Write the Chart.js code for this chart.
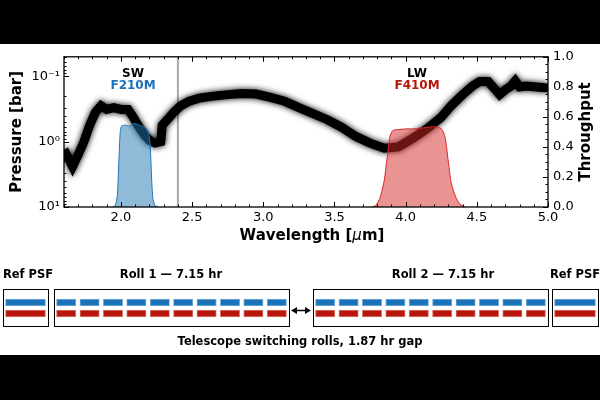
<!DOCTYPE html>
<html>
<head>
<meta charset="utf-8">
<script src="https://cdn.jsdelivr.net/npm/chart.js@4.4.0/dist/chart.umd.min.js"></script>
<style>
  html, body { margin: 0; padding: 0; background: #000; }
  #pagina { position: relative; width: 600px; height: 400px; overflow: hidden; background: #000; }
  #faixa { position: absolute; left: 0; top: 44px; width: 600px; height: 311px; background: #fff; }
  #graficoEspectro { position: absolute; left: 0; top: 44px; }
  #graficoRolls { position: absolute; left: 0; top: 260px; }
</style>
</head>
<body>
<div id="pagina">
  <div id="faixa"></div>
  <canvas id="graficoEspectro" width="600" height="216"></canvas>
  <canvas id="graficoRolls" width="600" height="95"></canvas>
</div>
<script>
// espectro (pressão de contribuição)
const comprimentoOnda = [1.60, 1.63, 1.66, 1.70, 1.74, 1.78, 1.82, 1.86, 1.90, 1.95, 2.00, 2.05, 2.08, 2.12, 2.16, 2.20, 2.24, 2.28,
  2.29, 2.33, 2.37, 2.42, 2.48, 2.55, 2.65, 2.75, 2.85, 2.95, 3.05, 3.15, 3.25, 3.35, 3.45, 3.55, 3.65, 3.75, 3.85, 3.95,
  4.05, 4.15, 4.25, 4.32, 4.40, 4.47, 4.52, 4.58, 4.62, 4.66, 4.70, 4.74, 4.77, 4.80, 4.85, 4.92, 5.00];
const pressao = [1.32, 1.78, 2.4, 1.58, 1.0, 0.56, 0.355, 0.28, 0.32, 0.30, 0.32, 0.32, 0.40, 0.56, 0.76, 0.95, 1.05, 1.0,
  0.56, 0.45, 0.355, 0.28, 0.24, 0.215, 0.20, 0.19, 0.182, 0.186, 0.21, 0.24, 0.30, 0.37, 0.46, 0.60, 0.83, 1.05, 1.26, 1.2,
  0.89, 0.63, 0.42, 0.28, 0.19, 0.14, 0.12, 0.12, 0.15, 0.19, 0.16, 0.14, 0.117, 0.145, 0.14, 0.145, 0.15];

// curvas de transmissão dos filtros
const comprimentoF210M = [1.94, 1.96, 1.975, 1.985, 1.995, 2.005, 2.03, 2.06, 2.09, 2.13, 2.17, 2.19, 2.205, 2.215, 2.225, 2.24, 2.26];
const transmissaoF210M = [0, 0.01, 0.08, 0.30, 0.50, 0.54, 0.545, 0.54, 0.556, 0.545, 0.53, 0.51, 0.42, 0.20, 0.05, 0.01, 0];
const comprimentoF410M = [3.76, 3.79, 3.82, 3.85, 3.87, 3.89, 3.91, 3.95, 4.00, 4.05, 4.10, 4.15, 4.20, 4.24, 4.265, 4.28, 4.30, 4.32, 4.35, 4.38, 4.42];
const transmissaoF410M = [0, 0.01, 0.06, 0.18, 0.33, 0.47, 0.51, 0.515, 0.52, 0.52, 0.525, 0.53, 0.535, 0.53, 0.50, 0.45, 0.30, 0.16, 0.07, 0.02, 0];

// eixos
const ticksComprimento = [2.0, 2.5, 3.0, 3.5, 4.0, 4.5, 5.0];
const ticksPressao = [0.1, 1, 10];
const rotulosPressao = ['10⁻¹', '10⁰', '10¹'];
const ticksTransmissao = [0, 0.2, 0.4, 0.6, 0.8, 1.0];
const linhaCorte = 2.4;

// rótulos dos canais
const canais = ['SW', 'LW'];
const filtros = ['F210M', 'F410M'];
const centroCanal = [2.085, 4.08];

// sequência de observação
const blocosRotulo = ['Ref PSF', 'Roll 1 — 7.15 hr', 'Roll 2 — 7.15 hr', 'Ref PSF'];
const blocosExposicoes = [1, 10, 10, 1];
const textoIntervalo = 'Telescope switching rolls, 1.87 hr gap';

const corSW = '#1a72bb';
const corLW = '#b8160a';
const fonte = '"DejaVu Sans"';

Chart.defaults.font.family = fonte;
Chart.defaults.color = '#000';

const pluginEixos = {
  id: 'eixos',
  beforeDatasetsDraw(chart) {
    const { ctx, chartArea: a, scales: { x } } = chart;
    const px = x.getPixelForValue(linhaCorte);
    ctx.save();
    ctx.strokeStyle = '#a8a8a8';
    ctx.lineWidth = 2;
    ctx.beginPath();
    ctx.moveTo(px, a.top);
    ctx.lineTo(px, a.bottom);
    ctx.stroke();
    ctx.restore();
  },
  beforeDatasetDraw(chart, args) {
    if (args.index !== 2) return;
    const ctx = chart.ctx;
    ctx.save();
    ctx.shadowColor = 'rgba(0,0,0,1)';
    ctx.shadowBlur = 6;
  },
  afterDatasetDraw(chart, args) {
    if (args.index !== 2) return;
    chart.ctx.restore();
  },
  afterDraw(chart) {
    const { ctx, chartArea: a, scales: { x, y, y2 } } = chart;
    ctx.save();
    ctx.strokeStyle = '#000';
    ctx.lineWidth = 1;
    const traco = (x1, y1, x2, y2b) => {
      ctx.beginPath(); ctx.moveTo(x1, y1); ctx.lineTo(x2, y2b); ctx.stroke();
    };
    // ticks para dentro, estilo matplotlib
    for (let k = 16; k <= 50; k++) {
      const p = Math.round(x.getPixelForValue(k / 10)) + 0.5;
      const len = k % 5 === 0 ? 5 : 2.5;
      traco(p, a.bottom, p, a.bottom - len);
      traco(p, a.top, p, a.top + len);
    }
    [0.01, 0.1, 1].forEach(dec => {
      for (let m = 1; m <= 9; m++) {
        const v = m * dec;
        if (v < 0.05 - 1e-9 || v > 10 + 1e-9) continue;
        const p = Math.round(y.getPixelForValue(v)) + 0.5;
        traco(a.left, p, a.left + (m === 1 ? 5 : 2.5), p);
      }
    });
    const p10 = Math.round(y.getPixelForValue(10)) + 0.5;
    traco(a.left, p10, a.left + 5, p10);
    for (let k = 0; k <= 20; k++) {
      const p = Math.round(y2.getPixelForValue(k / 20)) + 0.5;
      traco(a.right, p, a.right - (k % 4 === 0 ? 5 : 2.5), p);
    }
    ctx.lineWidth = 1.3;
    ctx.strokeRect(a.left, a.top, a.right - a.left, a.bottom - a.top);

    // títulos dos eixos
    ctx.fillStyle = '#000';
    ctx.textAlign = 'center';
    ctx.textBaseline = 'middle';
    ctx.font = 'bold 15px ' + fonte;
    const meio = (a.top + a.bottom) / 2;
    ctx.save();
    ctx.translate(17, meio);
    ctx.rotate(-Math.PI / 2);
    ctx.fillText('Pressure [bar]', 0, 0);
    ctx.restore();
    ctx.save();
    ctx.translate(586, meio);
    ctx.rotate(-Math.PI / 2);
    ctx.fillText('Throughput', 0, 0);
    ctx.restore();

    const partes = [['Wavelength [', 'bold 15px '], ['μ', 'italic 15px '], ['m]', 'bold 15px ']];
    let total = 0;
    partes.forEach(([t, f]) => { ctx.font = f + fonte; total += ctx.measureText(t).width; });
    let cx = (a.left + a.right) / 2 + 6 - total / 2;
    ctx.textAlign = 'left';
    partes.forEach(([t, f]) => {
      ctx.font = f + fonte;
      ctx.fillText(t, cx, 192);
      cx += ctx.measureText(t).width;
    });

    // rótulos SW / LW
    ctx.textAlign = 'center';
    ctx.font = 'bold 12px ' + fonte;
    canais.forEach((c, i) => {
      const px = x.getPixelForValue(centroCanal[i]);
      ctx.fillStyle = '#000';
      ctx.fillText(c, px, y2.getPixelForValue(0.885));
      ctx.fillStyle = i === 0 ? corSW : corLW;
      ctx.fillText(filtros[i], px, y2.getPixelForValue(0.805));
    });
    ctx.restore();
  }
};

const ctxEspectro = document.getElementById('graficoEspectro').getContext('2d');
new Chart(ctxEspectro, {
  type: 'line',
  data: {
    datasets: [
      {
        label: 'F210M',
        data: comprimentoF210M.map((v, i) => ({ x: v, y: transmissaoF210M[i] })),
        yAxisID: 'y2',
        borderColor: '#1f77b4',
        backgroundColor: 'rgba(31,119,180,0.5)',
        borderWidth: 1,
        fill: 'origin',
        pointRadius: 0,
        tension: 0.2
      },
      {
        label: 'F410M',
        data: comprimentoF410M.map((v, i) => ({ x: v, y: transmissaoF410M[i] })),
        yAxisID: 'y2',
        borderColor: '#d62728',
        backgroundColor: 'rgba(214,39,40,0.5)',
        borderWidth: 1,
        fill: 'origin',
        pointRadius: 0,
        tension: 0.2
      },
      {
        label: 'Espectro',
        data: comprimentoOnda.map((v, i) => ({ x: v, y: pressao[i] })),
        yAxisID: 'y',
        borderColor: '#000',
        borderWidth: 9,
        fill: false,
        pointRadius: 0,
        tension: 0
      }
    ]
  },
  options: {
    responsive: false,
    animation: false,
    layout: { padding: { top: 9, left: 0, right: 0, bottom: 0 } },
    plugins: { legend: { display: false }, tooltip: { enabled: false } },
    scales: {
      x: {
        type: 'linear',
        min: 1.6,
        max: 5.0,
        grid: { display: false, drawTicks: false },
        border: { display: false },
        afterBuildTicks: s => { s.ticks = ticksComprimento.map(v => ({ value: v })); },
        afterFit: s => { s.height = 53; },
        ticks: { font: { size: 13 }, padding: 3, maxRotation: 0, callback: v => Number(v).toFixed(1) }
      },
      y: {
        type: 'logarithmic',
        position: 'left',
        reverse: true,
        min: 0.05,
        max: 10,
        grid: { display: false, drawTicks: false },
        border: { display: false },
        afterBuildTicks: s => { s.ticks = ticksPressao.map(v => ({ value: v })); },
        afterFit: s => { s.width = 64; },
        ticks: { font: { size: 13 }, padding: 4, callback: v => rotulosPressao[ticksPressao.indexOf(v)] }
      },
      y2: {
        type: 'linear',
        position: 'right',
        min: 0,
        max: 1,
        grid: { display: false, drawTicks: false },
        border: { display: false },
        afterBuildTicks: s => { s.ticks = ticksTransmissao.map(v => ({ value: v })); },
        afterFit: s => { s.width = 52; },
        ticks: { font: { size: 13 }, padding: 5, callback: v => Number(v).toFixed(1) }
      }
    }
  },
  plugins: [pluginEixos]
});

// --- diagrama das rolagens ---
// layout esquemático (unidades do eixo x do diagrama)
const blocoInicio = [3, 54, 313, 552];
const blocoFim = [48, 289, 548, 598];
const rotuloCentro = [28, 171, 443, 575];

const datasetsRolls = [];
blocosExposicoes.forEach((n, b) => {
  const ini = blocoInicio[b] + 2.5;
  const fim = blocoFim[b] - 2.5;
  const vao = n > 1 ? 4 : 0;
  const largura = (fim - ini - vao * (n - 1)) / n;
  for (let k = 0; k < n; k++) {
    const s = ini + k * (largura + vao);
    datasetsRolls.push({
      data: [[s, s + largura], [s, s + largura]],
      backgroundColor: [corSW, corLW],
      borderColor: ['#7fb0da', '#d77b70'],
      borderWidth: 1,
      borderSkipped: false,
      barThickness: 7,
      grouped: false
    });
  }
});

const pluginRolls = {
  id: 'rolls',
  afterDraw(chart) {
    const { ctx, chartArea: a, scales: { x } } = chart;
    ctx.save();
    ctx.strokeStyle = '#000';
    ctx.lineWidth = 1;
    blocosRotulo.forEach((r, b) => {
      const x1 = Math.round(x.getPixelForValue(blocoInicio[b])) + 0.5;
      const x2 = Math.round(x.getPixelForValue(blocoFim[b])) + 0.5;
      ctx.strokeRect(x1, a.top - 7.5, x2 - x1, a.bottom - a.top + 15);
      ctx.fillStyle = '#000';
      ctx.font = 'bold 11.5px ' + fonte;
      ctx.textAlign = 'center';
      ctx.textBaseline = 'middle';
      ctx.fillText(r, x.getPixelForValue(rotuloCentro[b]), 15);
    });
    // seta dupla entre as rolagens
    const xa = x.getPixelForValue(blocoFim[1]) + 2;
    const xb = x.getPixelForValue(blocoInicio[2]) - 2;
    const ya = 50.5;
    ctx.lineWidth = 1.5;
    ctx.beginPath(); ctx.moveTo(xa + 4, ya); ctx.lineTo(xb - 4, ya); ctx.stroke();
    ctx.fillStyle = '#000';
    ctx.beginPath(); ctx.moveTo(xa, ya); ctx.lineTo(xa + 6, ya - 3.5); ctx.lineTo(xa + 6, ya + 3.5); ctx.closePath(); ctx.fill();
    ctx.beginPath(); ctx.moveTo(xb, ya); ctx.lineTo(xb - 6, ya - 3.5); ctx.lineTo(xb - 6, ya + 3.5); ctx.closePath(); ctx.fill();
    ctx.font = 'bold 11.5px ' + fonte;
    ctx.textAlign = 'center';
    ctx.fillText(textoIntervalo, 300, 82);
    ctx.restore();
  }
};

const ctxRolls = document.getElementById('graficoRolls').getContext('2d');
new Chart(ctxRolls, {
  type: 'bar',
  data: { labels: filtros, datasets: datasetsRolls },
  options: {
    indexAxis: 'y',
    responsive: false,
    animation: false,
    layout: { padding: { top: 37, bottom: 36, left: 0, right: 0 } },
    plugins: { legend: { display: false }, tooltip: { enabled: false } },
    scales: {
      x: { type: 'linear', min: 0, max: 600, display: false },
      y: { display: false }
    }
  },
  plugins: [pluginRolls]
});
</script>
</body>
</html>
